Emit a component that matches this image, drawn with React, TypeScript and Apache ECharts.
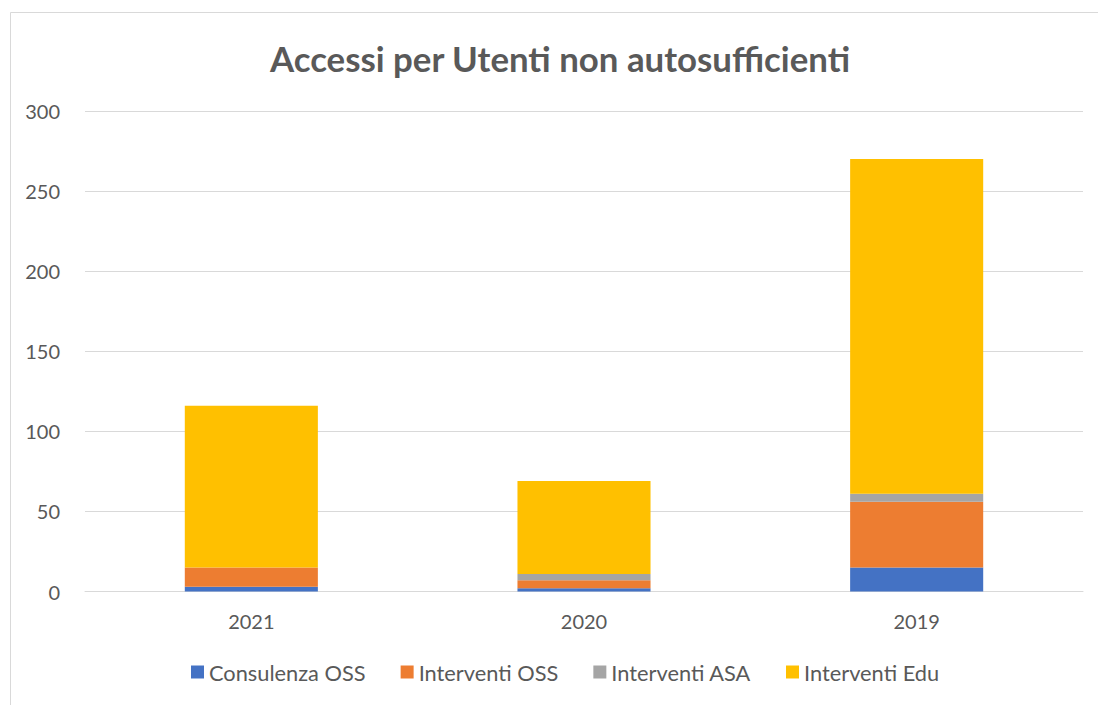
import React, { useEffect, useRef } from "react";
import * as echarts from "echarts";

const categories = ["2021", "2020", "2019"];
const consulenzaOSS = [3, 2, 15];
const interventiOSS = [12, 5, 41];
const interventiASA = [0, 4, 5];
const interventiEdu = [101, 58, 209];
const yTicks = { min: 0, max: 300, interval: 50 };

const FONT = "Lato, 'Open Sans', sans-serif";

export default function App() {
  const ref = useRef<HTMLDivElement>(null);
  useEffect(() => {
    const chart = echarts.init(ref.current!, null, { renderer: "svg" });
    const mk = (name: string, data: number[], color: string) => ({
      name,
      type: "bar",
      stack: "total",
      data,
      barWidth: "40%",
      itemStyle: { color },
    });
    chart.setOption({
      animation: false,
      backgroundColor: "#ffffff",
      textStyle: { fontFamily: FONT },
      title: {
        text: "Accessi per Utenti non autosufficienti",
        left: 555,
        textAlign: "center",
        top: 36,
        textStyle: { fontFamily: FONT, fontSize: 34.8, fontWeight: "bold", color: "#595959" },
      },
      graphic: [
        {
          type: "rect",
          shape: { x: 10.5, y: 12.5, width: 1100, height: 700 },
          style: { fill: "none", stroke: "#d9d9d9", lineWidth: 1 },
          silent: true,
        },
      ],
      legend: {
        bottom: 17,
        left: 186,
        itemWidth: 13,
        itemHeight: 13,
        itemGap: 35,
        icon: "rect",
        textStyle: { fontFamily: FONT, fontSize: 21.8, color: "#595959", padding: [0, 0, 0, 0] },
        data: ["Consulenza OSS", "Interventi OSS", "Interventi ASA", "Interventi Edu"],
      },
      grid: { left: 85, right: 15, top: 111, bottom: 113.5, containLabel: false },
      xAxis: {
        type: "category",
        data: categories,
        axisLine: { lineStyle: { color: "#d9d9d9", width: 1 } },
        axisTick: { show: false },
        axisLabel: { fontFamily: FONT, fontSize: 20, color: "#595959", margin: 19 },
      },
      yAxis: {
        type: "value",
        min: yTicks.min,
        max: yTicks.max,
        interval: yTicks.interval,
        axisLine: { show: false },
        axisTick: { show: false },
        splitLine: { lineStyle: { color: "#d9d9d9", width: 1 } },
        axisLabel: { fontFamily: FONT, fontSize: 20, color: "#595959", margin: 25 },
      },
      series: [
        mk("Consulenza OSS", consulenzaOSS, "#4472c4"),
        mk("Interventi OSS", interventiOSS, "#ed7d31"),
        mk("Interventi ASA", interventiASA, "#a5a5a5"),
        mk("Interventi Edu", interventiEdu, "#ffc000"),
      ],
    });
    return () => chart.dispose();
  }, []);
  return (
    <div
      ref={ref}
      style={{ position: "absolute", left: 0, top: 0, width: 1098, height: 705 }}
    />
  );
}
